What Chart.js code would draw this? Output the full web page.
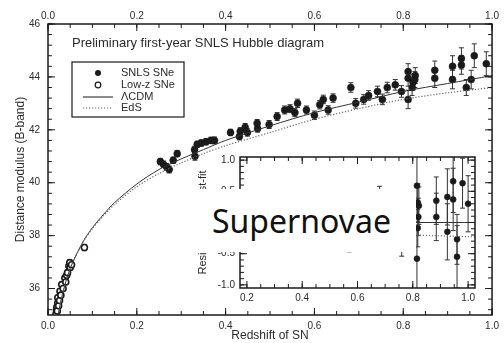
<!DOCTYPE html>
<html>
<head>
<meta charset="utf-8">
<script src="https://cdn.jsdelivr.net/npm/chart.js@4.4.1/dist/chart.umd.min.js"></script>
<style>
  html, body { margin: 0; padding: 0; background: #fff; }
  #wrap { position: relative; width: 504px; height: 343px; overflow: hidden; }
  #hubble { position: absolute; left: 0; top: 0; }
  #resid { position: absolute; left: 185px; top: 146px; }
  #label {
    position: absolute; left: 193px; top: 189px; width: 223px; height: 63px;
    background: #fff; color: #111; font-family: "Noto Sans", sans-serif; font-size: 32px;
    line-height: 63px; padding-left: 19px; box-sizing: border-box;
  }
</style>
</head>
<body>
<div id="wrap">
  <canvas id="hubble" width="504" height="343"></canvas>
  <canvas id="resid" width="295" height="160"></canvas>
  <div id="label">Supernovae</div>
</div>
<script>
// --- data ---
const snlsZ = [0.253, 0.26, 0.267, 0.273, 0.282, 0.291, 0.33, 0.331, 0.336, 0.345, 0.356, 0.367, 0.375,
  0.411, 0.431, 0.433, 0.444, 0.449, 0.471, 0.472, 0.498, 0.516, 0.533, 0.545, 0.556, 0.562, 0.582, 0.6,
  0.612, 0.62, 0.631, 0.642, 0.682, 0.693, 0.711, 0.722, 0.742, 0.753, 0.764, 0.782, 0.796,
  0.811, 0.811, 0.811, 0.822, 0.827, 0.82, 0.826, 0.871, 0.871, 0.911, 0.911, 0.931, 0.931, 0.942, 0.953, 0.96, 0.987];
const snlsMu = [40.8, 40.7, 40.6, 40.5, 40.85, 41.1, 41.25, 41.0, 41.45, 41.5, 41.55, 41.6, 41.6,
  41.9, 41.75, 41.95, 42.1, 41.9, 42.25, 42.05, 42.2, 42.5, 42.75, 42.8, 42.65, 43.0, 42.75, 42.55,
  42.95, 43.15, 42.75, 43.2, 43.6, 43.0, 43.15, 43.3, 43.45, 43.15, 43.6, 43.7, 43.45,
  44.2, 43.95, 43.15, 43.8, 44.05, 43.6, 43.9, 44.25, 43.95, 44.4, 43.9, 44.7, 44.45, 43.6, 43.9, 44.8, 44.5];
const snlsErr = [0.12, 0.12, 0.13, 0.13, 0.12, 0.12, 0.13, 0.15, 0.12, 0.12, 0.12, 0.12, 0.13,
  0.12, 0.13, 0.13, 0.14, 0.14, 0.14, 0.14, 0.15, 0.15, 0.15, 0.15, 0.15, 0.16, 0.15, 0.16,
  0.16, 0.16, 0.16, 0.16, 0.18, 0.18, 0.18, 0.18, 0.2, 0.2, 0.2, 0.2, 0.22,
  0.3, 0.3, 0.35, 0.3, 0.3, 0.3, 0.3, 0.35, 0.35, 0.4, 0.35, 0.4, 0.35, 0.3, 0.35, 0.45, 0.45];

const lowzZ = [0.018, 0.019, 0.02, 0.021, 0.022, 0.022, 0.024, 0.026, 0.027, 0.029, 0.031, 0.034,
  0.038, 0.04, 0.042, 0.044, 0.047, 0.049, 0.05, 0.053, 0.082];
const lowzMu = [35.05, 35.2, 35.3, 35.15, 35.45, 35.65, 35.35, 35.55, 35.9, 35.75, 36.15, 36.0,
  36.4, 36.25, 36.5, 36.6, 36.85, 36.98, 36.8, 36.9, 37.55];
const lowzErr = [0.1, 0.1, 0.1, 0.1, 0.1, 0.1, 0.1, 0.1, 0.1, 0.1, 0.1, 0.1,
  0.1, 0.1, 0.1, 0.1, 0.1, 0.1, 0.1, 0.1, 0.12];

const modelZ = [0.02, 0.025, 0.03, 0.04, 0.05, 0.06, 0.08, 0.1, 0.125, 0.15, 0.2, 0.25, 0.3, 0.35, 0.4,
  0.5, 0.6, 0.7, 0.8, 0.9, 1.0];
const lcdmMu = [34.75, 35.2, 35.6, 36.25, 36.75, 37.15, 37.8, 38.3, 38.8, 39.25, 39.95, 40.5, 40.9, 41.25, 41.6,
  42.15, 42.65, 43.05, 43.45, 43.75, 44.05];
const edsMu = [34.75, 35.2, 35.6, 36.25, 36.75, 37.15, 37.78, 38.27, 38.75, 39.18, 39.85, 40.35, 40.75, 41.1, 41.4,
  41.9, 42.4, 42.8, 43.15, 43.4, 43.6];

const residZ = [0.25, 0.27, 0.29, 0.33, 0.35, 0.37, 0.41, 0.43, 0.45, 0.47, 0.5, 0.52, 0.55, 0.57, 0.6, 0.62,
  0.64, 0.68, 0.7, 0.72, 0.74, 0.76, 0.78,
  0.815, 0.818, 0.822, 0.82, 0.818, 0.815, 0.885, 0.885, 0.925, 0.925, 0.946, 0.946, 0.96, 0.96, 0.98, 1.0];
const residVal = [0.1, -0.1, 0.15, -0.05, 0.1, 0.05, 0.1, -0.1, 0.05, 0.1, 0.0, 0.2, 0.15, -0.25, -0.1, 0.2,
  0.15, 0.35, -0.2, 0.0, 0.05, -0.3, 0.2,
  0.59, 0.32, 0.27, 0.09, -0.09, -0.58, 0.35, 0.09, 0.41, -0.15, 0.66, 0.37, -0.55, -0.27, 0.63, 0.3];
const residErr = [0.15, 0.15, 0.15, 0.15, 0.15, 0.15, 0.15, 0.15, 0.16, 0.16, 0.17, 0.17, 0.18, 0.22, 0.18, 0.2,
  0.2, 0.23, 0.2, 0.2, 0.22, 0.24, 0.22,
  0.5, 0.3, 0.3, 0.3, 0.3, 0.5, 0.38, 0.38, 0.45, 0.45, 0.5, 0.5, 0.5, 0.4, 0.4, 0.45];

const residModelZ = [0.175, 0.4, 0.6, 0.8, 1.025];
const residLcdm = [0, 0, 0, 0, 0];
const residEds = [-0.08, -0.13, -0.17, -0.2, -0.23];

const xTicks = [0, 0.2, 0.4, 0.6, 0.8, 1.0];
const yTicks = [36, 38, 40, 42, 44, 46];
const residXTicks = [0.2, 0.4, 0.6, 0.8, 1.0];
const residYTicks = [-1.0, -0.5, 0.0, 0.5, 1.0];
const legendLabels = ['SNLS SNe', 'Low-z SNe', '\u039BCDM', 'EdS'];
const plotTitle = 'Preliminary first-year SNLS Hubble diagram';

const FONT = '"Liberation Sans", Arial, sans-serif';
const TEXT = '#2b2b2b';
const INK = '#1a1a1a';

const pts = (xs, ys) => xs.map((x, i) => ({ x: x, y: ys[i] }));
const fixSize = px => s => { if (s.isHorizontal()) s.height = px; else s.width = px; };
const useTicks = vals => s => { s.ticks = vals.map(v => ({ value: v })); };

// inward tick marks + frame
const frameTicks = {
  id: 'frameTicks',
  afterDraw(chart, args, opts) {
    if (!opts.x) return;
    const { ctx, chartArea: a } = chart;
    const xs = chart.scales[opts.x.id], ys = chart.scales[opts.y.id];
    const marks = (spec, scale, cb) => {
      [[spec.minor, 4], [spec.major, 7]].forEach(([step, len]) => {
        const k0 = Math.ceil((scale.min - spec.base) / step - 1e-6);
        const k1 = Math.floor((scale.max - spec.base) / step + 1e-6);
        for (let k = k0; k <= k1; k++) cb(scale.getPixelForValue(spec.base + k * step), len);
      });
    };
    ctx.save();
    ctx.strokeStyle = INK;
    ctx.lineWidth = 1;
    ctx.beginPath();
    marks(opts.x, xs, (px, len) => {
      ctx.moveTo(px, a.bottom); ctx.lineTo(px, a.bottom - len);
      ctx.moveTo(px, a.top); ctx.lineTo(px, a.top + len);
    });
    marks(opts.y, ys, (py, len) => {
      ctx.moveTo(a.left, py); ctx.lineTo(a.left + len, py);
      ctx.moveTo(a.right, py); ctx.lineTo(a.right - len, py);
    });
    ctx.stroke();
    ctx.lineWidth = 1.5;
    ctx.strokeRect(a.left, a.top, a.right - a.left, a.bottom - a.top);
    ctx.restore();
  }
};

// vertical error bars from the dataset's errors array
const errorBars = {
  id: 'errorBars',
  beforeDatasetsDraw(chart) {
    const { ctx, chartArea: a } = chart;
    ctx.save();
    ctx.beginPath();
    ctx.rect(a.left, a.top, a.right - a.left, a.bottom - a.top);
    ctx.clip();
    ctx.strokeStyle = '#333';
    ctx.lineWidth = 1;
    chart.data.datasets.forEach((ds, i) => {
      if (!ds.errors) return;
      const meta = chart.getDatasetMeta(i);
      const xs = chart.scales[meta.xAxisID], ys = chart.scales[meta.yAxisID];
      ctx.beginPath();
      ds.data.forEach((p, j) => {
        const e = ds.errors[j];
        const x = xs.getPixelForValue(p.x);
        const y0 = ys.getPixelForValue(p.y - e), y1 = ys.getPixelForValue(p.y + e);
        ctx.moveTo(x, y0); ctx.lineTo(x, y1);
        ctx.moveTo(x - 2.5, y0); ctx.lineTo(x + 2.5, y0);
        ctx.moveTo(x - 2.5, y1); ctx.lineTo(x + 2.5, y1);
      });
      ctx.stroke();
    });
    ctx.restore();
  }
};

Chart.register(frameTicks, errorBars);

// title and legend inside the main plot
const hubbleNotes = {
  id: 'hubbleNotes',
  afterDraw(chart) {
    const ctx = chart.ctx;
    ctx.save();
    ctx.fillStyle = TEXT;
    ctx.textBaseline = 'middle';
    ctx.font = '13px ' + FONT;
    ctx.fillText(plotTitle, 72, 43);

    ctx.strokeStyle = INK;
    ctx.lineWidth = 1.2;
    ctx.strokeRect(72, 62, 112, 55);
    const rows = [73, 85, 97, 108];
    ctx.font = '11px ' + FONT;
    legendLabels.forEach((t, i) => ctx.fillText(t, 121, rows[i]));

    ctx.fillStyle = INK;
    ctx.beginPath(); ctx.arc(98, rows[0], 3, 0, Math.PI * 2); ctx.fill();
    ctx.lineWidth = 1.2;
    ctx.beginPath(); ctx.arc(98, rows[1], 2.8, 0, Math.PI * 2); ctx.stroke();
    ctx.lineWidth = 1;
    ctx.beginPath(); ctx.moveTo(83, rows[2]); ctx.lineTo(113, rows[2]); ctx.stroke();
    ctx.strokeStyle = '#666';
    ctx.setLineDash([1.2, 1.8]);
    ctx.beginPath(); ctx.moveTo(83, rows[3]); ctx.lineTo(113, rows[3]); ctx.stroke();
    ctx.restore();
  }
};

const tickFont = { family: FONT, size: 10 };
const titleFont = { family: FONT, size: 12 };

new Chart(document.getElementById('hubble'), {
  type: 'scatter',
  data: {
    datasets: [
      {
        label: 'EdS', data: pts(modelZ, edsMu), showLine: true, pointRadius: 0,
        borderColor: '#666', borderWidth: 1.2, borderDash: [1.2, 1.8], tension: 0.3
      },
      {
        label: '\u039BCDM', data: pts(modelZ, lcdmMu), showLine: true, pointRadius: 0,
        borderColor: '#333', borderWidth: 1, tension: 0.3
      },
      {
        label: 'Low-z SNe', data: pts(lowzZ, lowzMu), errors: lowzErr,
        pointRadius: 3, pointBackgroundColor: '#fff', pointBorderColor: INK, pointBorderWidth: 1.6
      },
      {
        label: 'SNLS SNe', data: pts(snlsZ, snlsMu), errors: snlsErr,
        pointRadius: 3.5, pointBackgroundColor: INK, pointBorderColor: INK, pointBorderWidth: 0.5
      }
    ]
  },
  options: {
    responsive: false,
    animation: false,
    devicePixelRatio: 1,
    layout: { padding: { right: 4 } },
    plugins: {
      legend: { display: false },
      tooltip: { enabled: false },
      frameTicks: {
        x: { id: 'x', base: 0, major: 0.2, minor: 0.05 },
        y: { id: 'y', base: 36, major: 2, minor: 0.4 }
      }
    },
    scales: {
      x: {
        type: 'linear', position: 'bottom', min: 0, max: 1,
        afterBuildTicks: useTicks(xTicks), afterFit: fixSize(28),
        grid: { display: false, drawTicks: false }, border: { display: false },
        ticks: { color: TEXT, font: tickFont, padding: 5, maxRotation: 0, autoSkip: false, callback: v => v.toFixed(1) },
        title: { display: true, text: 'Redshift of SN', color: TEXT, font: titleFont, padding: { top: 0, bottom: 0 } }
      },
      x2: {
        type: 'linear', axis: 'x', position: 'top', min: 0, max: 1,
        afterBuildTicks: useTicks(xTicks), afterFit: fixSize(24),
        grid: { display: false, drawTicks: false }, border: { display: false },
        ticks: { color: TEXT, font: tickFont, padding: 2, maxRotation: 0, autoSkip: false, callback: v => v.toFixed(1) }
      },
      y: {
        type: 'linear', position: 'left', min: 35, max: 46,
        afterBuildTicks: useTicks(yTicks), afterFit: fixSize(48),
        grid: { display: false, drawTicks: false }, border: { display: false },
        ticks: { color: TEXT, font: tickFont, padding: 8, autoSkip: false, callback: v => String(v) },
        title: { display: true, text: 'Distance modulus (B-band)', color: TEXT, font: titleFont, padding: { top: 13, bottom: 0 } }
      }
    }
  },
  plugins: [hubbleNotes]
});

new Chart(document.getElementById('resid'), {
  type: 'scatter',
  data: {
    datasets: [
      {
        label: 'EdS', data: pts(residModelZ, residEds), showLine: true, pointRadius: 0,
        borderColor: '#777', borderWidth: 1.2, borderDash: [1.2, 1.8]
      },
      {
        label: '\u039BCDM', data: pts(residModelZ, residLcdm), showLine: true, pointRadius: 0,
        borderColor: '#333', borderWidth: 1
      },
      {
        label: 'SNLS SNe', data: pts(residZ, residVal), errors: residErr,
        pointRadius: 3, pointBackgroundColor: INK, pointBorderColor: INK, pointBorderWidth: 0.5
      }
    ]
  },
  options: {
    responsive: false,
    animation: false,
    devicePixelRatio: 1,
    layout: { padding: { top: 10, right: 5 } },
    plugins: {
      legend: { display: false },
      tooltip: { enabled: false },
      frameTicks: {
        x: { id: 'x', base: 0, major: 0.2, minor: 0.05 },
        y: { id: 'y', base: 0, major: 0.5, minor: 0.1 }
      }
    },
    scales: {
      x: {
        type: 'linear', position: 'bottom', min: 0.175, max: 1.025,
        afterBuildTicks: useTicks(residXTicks), afterFit: fixSize(18),
        grid: { display: false, drawTicks: false }, border: { display: false },
        ticks: { color: TEXT, font: tickFont, padding: 4, maxRotation: 0, autoSkip: false, callback: v => v.toFixed(1) }
      },
      y: {
        type: 'linear', position: 'left', min: -1.05, max: 1.05,
        afterBuildTicks: useTicks(residYTicks), afterFit: fixSize(55),
        grid: { display: false, drawTicks: false }, border: { display: false },
        ticks: { color: TEXT, font: tickFont, padding: 5, autoSkip: false, callback: v => v.toFixed(1) },
        title: { display: true, text: 'Residual from best-fit', color: TEXT, font: { family: FONT, size: 11 }, padding: { top: 11, bottom: 0 } }
      }
    }
  }
});
</script>
</body>
</html>
